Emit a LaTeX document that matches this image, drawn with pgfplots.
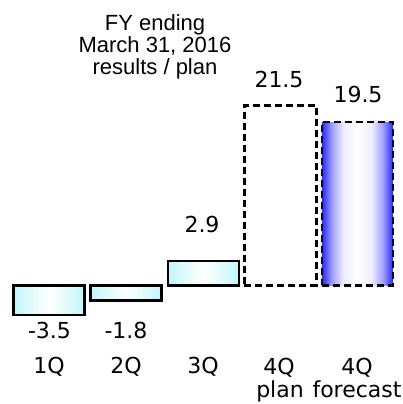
\documentclass[border=0pt]{standalone}
\usepackage{pgfplots}
\pgfplotsset{compat=1.18}
\usepackage{fontspec}
\setmainfont{DejaVu Sans}
\newfontfamily\titlefont{Liberation Sans}
\definecolor{barcyan}{RGB}{190,246,250}
\definecolor{barblue}{RGB}{40,40,255}
\pgfdeclarehorizontalshading{cyanbar}{100bp}{color(0bp)=(barcyan); color(25bp)=(barcyan); color(35bp)=(barcyan!55!white); color(50bp)=(white); color(65bp)=(barcyan!55!white); color(75bp)=(barcyan); color(100bp)=(barcyan)}
\pgfdeclarehorizontalshading{bluebar}{100bp}{color(0bp)=(barblue); color(25bp)=(barblue); color(32bp)=(barblue!45!white); color(40bp)=(barblue!8!white); color(50bp)=(white); color(60bp)=(barblue!8!white); color(68bp)=(barblue!45!white); color(75bp)=(barblue); color(100bp)=(barblue)}
\newcommand{\lab}[3]{\node[anchor=base, inner sep=0pt, font=\fontsize{22bp}{22bp}\selectfont] at (rel axis cs:{#1/403},{1-#2/404}) {#3};}
\newcommand{\tlab}[3]{\node[anchor=base, inner sep=0pt, font=\titlefont\fontsize{22bp}{22bp}\selectfont] at (rel axis cs:{#1/403},{1-#2/404}) {#3};}
\pgfplotsset{solidbar/.style={ybar, bar width=71bp, bar shift=0pt, draw=black, line width=2.4bp, shading=cyanbar, shading angle=0}}
\begin{document}
\begin{tikzpicture}
\begin{axis}[name=ax, width=403bp, height=404bp, scale only axis, hide axis, clip=false,
  xmin=-0.6355, xmax=4.591, ymin=-14.16, ymax=34.11]
% 1Q, 2Q, 3Q results (one plot per bar so each bar gets its own shading)
\addplot[solidbar] coordinates {(0,-3.5)};
\addplot[solidbar] coordinates {(1,-1.8)};
\addplot[solidbar] coordinates {(2,2.9)};
% 4Q plan
\addplot[ybar, bar width=72bp, bar shift=0pt, draw=black, line width=2.4bp,
  dash pattern=on 7bp off 4bp, fill=white]
  coordinates {(3,21.5)};
% 4Q forecast
\addplot[ybar, bar width=71bp, bar shift=0pt, draw=black, line width=2.4bp,
  dash pattern=on 7bp off 4bp, shading=bluebar, shading angle=0]
  coordinates {(4,19.5)};
\lab{49.5}{339}{-3.5}
\lab{126}{339}{-1.8}
\lab{202}{233}{2.9}
\lab{279}{87.5}{21.5}
\lab{358}{103}{19.5}
\lab{49}{374}{1Q}
\lab{126}{374}{2Q}
\lab{203}{374}{3Q}
\lab{279}{375}{4Q}
\lab{357}{375}{4Q}
\lab{280}{398}{plan}
\lab{357}{398}{forecast}
\tlab{155}{31}{FY ending}
\tlab{155}{53}{March 31, 2016}
\tlab{155}{75}{results / plan}
\end{axis}
\pgfresetboundingbox
\path (ax.south west) rectangle (ax.north east);
\end{tikzpicture}
\end{document}
